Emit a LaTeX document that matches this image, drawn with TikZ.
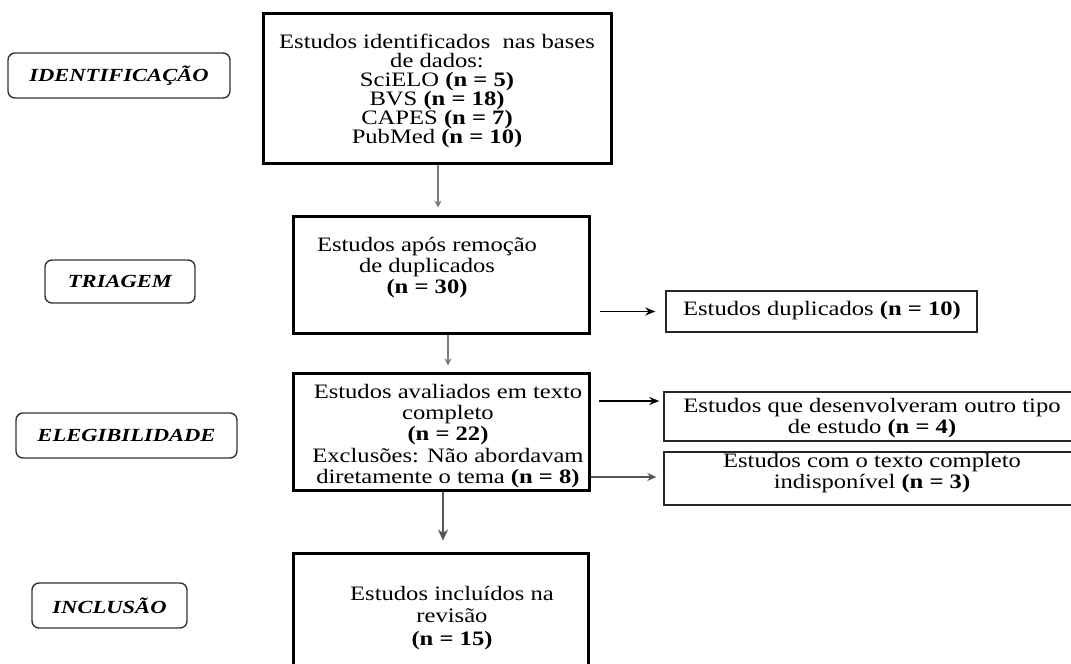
\documentclass[tikz,border=0pt]{standalone}
\usepackage{fontspec}
\setmainfont{Liberation Serif}
\newfontfamily\mainf{Liberation Serif}[FakeStretch=1.2]
\newfontfamily\labf{Liberation Serif}[FakeStretch=1.22]
\usetikzlibrary{arrows.meta,calc}
\definecolor{arrgray}{HTML}{7A7A7A}
\definecolor{arrdark}{HTML}{555555}
\tikzset{
  mainbox/.style={draw=black, line width=3pt, inner sep=0pt},
  sidebox/.style={draw=black!85, line width=1.4pt, inner sep=0pt},
  stagebox/.style={draw=black!80, line width=1.4pt, rounded corners=7pt, inner sep=0pt,
     font=\labf\fontsize{18.5}{20}\selectfont\bfseries\itshape},
  txt/.style={align=center, inner sep=0pt, font=\mainf\fontsize{20.5}{21}\selectfont},
  grayarrow/.style={draw=arrgray, line width=2pt, -{Stealth[length=7pt,width=7pt]}},
  darkarrow/.style={draw=arrdark, line width=2pt, -{Stealth[length=9pt,width=8pt]}},
  blackarrow/.style={draw=black, line width=1.6pt, -{Stealth[length=10pt,width=8pt]}},
}
\begin{document}
\begin{tikzpicture}[x=1pt,y=-1pt]
\useasboundingbox (0,0) rectangle (1071,664);
\clip (0,0) rectangle (1071,664);
% stage labels
\node[stagebox, minimum width=222pt, minimum height=45pt] (sid) at (119,75.5) {IDENTIFICAÇÃO};
\node[stagebox, minimum width=150pt, minimum height=43pt] (str) at (120,281.5) {TRIAGEM};
\node[stagebox, minimum width=221pt, minimum height=45pt] (sel) at (126.5,435.5) {ELEGIBILIDADE};
\node[stagebox, minimum width=155pt, minimum height=45pt] (sin) at (109.5,605.5) {INCLUSÃO};
% main boxes
\node[mainbox, minimum width=348pt, minimum height=150pt] (b1) at (437,88) {};
\node[mainbox, minimum width=296pt, minimum height=117pt] (b2) at (441,274.5) {};
\node[mainbox, minimum width=296pt, minimum height=117pt] (b3) at (441,431.5) {};
\node[mainbox, minimum width=295pt, minimum height=147pt] (b4) at (440.5,626.5) {};
% side boxes
\node[sidebox, minimum width=311pt, minimum height=41pt] (dup) at (821.5,311.5) {};
\node[sidebox, minimum width=436pt, minimum height=49pt] (oth) at (882,416.5) {};
\node[sidebox, minimum width=436pt, minimum height=53pt] (ind) at (882,478.5) {};
% texts
\node[txt, font=\mainf\fontsize{20.5}{19}\selectfont] (t1) at (437,91) {Estudos identificados\ \ nas bases\\de dados:\\SciELO \textbf{(n = 5)}\\BVS \textbf{(n = 18)}\\CAPES \textbf{(n = 7)}\\PubMed \textbf{(n = 10)}};
\node[txt] (t2) at (427,268) {Estudos após remoção\\de duplicados\\\textbf{(n = 30)}};
\node[txt, font=\mainf\fontsize{20.5}{21.3}\selectfont] (t3) at (448,436) {Estudos avaliados em texto\\completo\\\textbf{(n = 22)}\\Exclusões: Não abordavam\\diretamente o tema \textbf{(n = 8)}};
\node[txt] (t4) at (822,311) {Estudos duplicados \textbf{(n = 10)}};
\node[txt] (t5) at (872,418) {Estudos que desenvolveram outro tipo\\de estudo \textbf{(n = 4)}};
\node[txt] (t6) at (872,473) {Estudos com o texto completo\\indisponível \textbf{(n = 3)}};
\node[txt, font=\mainf\fontsize{20.5}{22.5}\selectfont] (t7) at (452,618) {Estudos incluídos na\\revisão\\\textbf{(n = 15)}};
% connectors
\draw[grayarrow, shorten >=7pt] ([xshift=1pt]b1.south) -- ([xshift=1pt]b1.south |- b2.north);
\draw[blackarrow, shorten <=9pt, shorten >=10pt] (b2.east |- dup.west) -- (dup.west);
\draw[grayarrow, shorten >=6pt] ([xshift=7pt]b2.south) -- ([xshift=7pt]b3.north);
\draw[blackarrow, shorten <=8pt, shorten >=4pt] ([yshift=30.5pt]b3.east) -- ([yshift=30.5pt]b3.east -| oth.west);
\draw[darkarrow, shorten >=7pt] ([yshift=-45.5pt]b3.east) -- ([yshift=-45.5pt]b3.east -| ind.west);
\draw[darkarrow, line width=2.6pt, -{Stealth[length=11pt,width=10pt]}, shorten >=11pt] ([xshift=2pt]b3.south) -- ([xshift=2pt]b3.south |- b4.north);
\end{tikzpicture}
\end{document}
